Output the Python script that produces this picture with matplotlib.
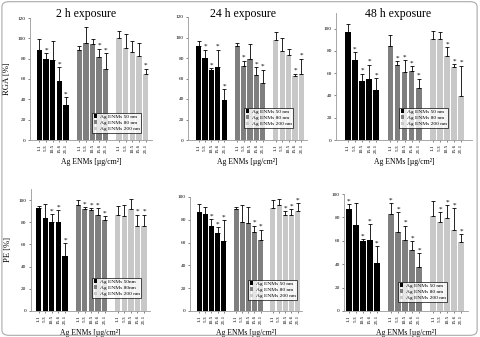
import matplotlib
matplotlib.use("Agg")
import matplotlib.pyplot as plt
import numpy as np
from matplotlib.patches import FancyBboxPatch

plt.rcParams['font.family'] = ['Liberation Serif', 'DejaVu Serif']

concentrations = ["1.1", "5.3", "10.5", "15.6", "21.1"]
series_labels = ["Ag ENMs 50 nm", "Ag ENMs 80 nm", "Ag ENMs 200 nm"]
series_labels_pe2 = ["Ag ENMs 50nm", "Ag ENMs 80nm", "Ag ENMs 200 nm"]
colors = ["#000000", "#7f7f7f", "#c8c8c8"]

# RGA 2 h
rga2_mean = [[88.9, 79.4, 79.0, 57.8, 34.0],
             [88.6, 95.4, 94.8, 81.4, 70.3],
             [100.6, 90.8, 86.3, 82.7, 65.0]]
rga2_top = [[99.0, 85.6, 97.7, 71.6, 42.0],
            [92.5, 111.0, 99.0, 90.0, 85.3],
            [107.0, 104.0, 97.4, 95.0, 70.0]]
rga2_star = [[0, 1, 0, 1, 1], [0, 0, 0, 1, 1], [0, 0, 0, 0, 1]]

# RGA 24 h
rga24_mean = [[91.4, 80.3, 68.6, 71.2, 39.3],
              [92.0, 72.5, 79.0, 63.0, 56.0],
              [97.9, 86.5, 83.2, 62.1, 64.7]]
rga24_top = [[96.6, 88.0, 70.0, 88.0, 49.8],
             [94.6, 77.4, 93.3, 70.9, 68.6],
             [105.4, 99.5, 88.8, 64.7, 79.3]]
rga24_star = [[0, 1, 1, 1, 1], [0, 1, 0, 1, 1], [0, 0, 0, 1, 1]]

# RGA 48 h
rga48_mean = [[97.0, 71.5, 53.2, 55.0, 45.0],
              [84.7, 67.3, 61.3, 61.6, 47.0],
              [90.7, 90.7, 75.7, 65.5, 39.6]]
rga48_top = [[104.5, 78.7, 59.5, 67.6, 55.6],
             [94.6, 70.9, 71.5, 66.0, 55.0],
             [98.0, 96.7, 83.5, 68.2, 66.7]]
rga48_star = [[0, 1, 1, 1, 1], [0, 1, 1, 1, 1], [0, 0, 1, 1, 1]]

# PE 2 h
pe2_mean = [[92.8, 84.3, 80.0, 80.0, 49.7],
            [95.8, 92.2, 91.3, 87.0, 81.6],
            [87.0, 85.8, 91.9, 76.2, 76.2]]
pe2_top = [[94.3, 96.4, 87.3, 90.7, 61.0],
           [100.0, 93.4, 92.5, 92.8, 85.5],
           [94.9, 95.8, 101.0, 86.7, 86.7]]
pe2_star = [[0, 0, 1, 1, 1], [0, 1, 1, 1, 1], [0, 0, 0, 1, 1]]

# PE 24 h
pe24_mean = [[87.1, 85.3, 74.8, 68.6, 61.0],
             [89.7, 77.7, 76.8, 69.5, 62.5],
             [90.0, 93.3, 84.2, 84.5, 87.4]]
pe24_top = [[93.5, 91.0, 80.6, 73.6, 79.8],
            [91.2, 93.3, 91.5, 75.0, 71.3],
            [97.0, 98.2, 87.4, 89.4, 94.7]]
pe24_star = [[0, 0, 1, 1, 1], [0, 0, 0, 1, 1], [0, 0, 1, 1, 1]]

# PE 48 h
pe48_mean = [[86.9, 73.2, 59.8, 60.4, 41.0],
             [83.0, 67.5, 60.7, 52.0, 37.6],
             [81.5, 75.8, 79.8, 69.2, 59.0]]
pe48_top = [[91.5, 92.0, 61.5, 74.0, 55.6],
            [92.3, 84.3, 73.0, 59.8, 49.3],
            [93.7, 84.3, 90.3, 87.7, 65.8]]
pe48_star = [[1, 0, 1, 1, 1], [1, 1, 1, 1, 1], [0, 1, 1, 1, 1]]

W, H = 480, 337
fig = plt.figure(figsize=(W / 100, H / 100), dpi=100)

def add_ax(L, R, T, B):
    return fig.add_axes([L / W, 1 - B / H, (R - L) / W, (B - T) / H])

def xlim_for(L, R, a, b):
    k = (b - a) / 16.8
    return (-0.4 - (a - L) / k, 16.4 + (R - b) / k)

panels = [
    dict(px=(30, 152, 18, 140), bars=(36.7, 148.3), ylim=120, yt=range(0, 121, 20),
         mean=rga2_mean, top=rga2_top, star=rga2_star, title=("2 h exposure", 86),
         ylabel="RGA [%]", labels=series_labels, leg=(92, 113, 144, 133)),
    dict(px=(188, 307, 17, 140), bars=(196, 304), ylim=120, yt=range(0, 121, 20),
         mean=rga24_mean, top=rga24_top, star=rga24_star, title=("24 h exposure", 243),
         ylabel=None, labels=series_labels, leg=(244, 107, 297, 128)),
    dict(px=(336, 472, 13, 140), bars=(345, 464), ylim=114, yt=range(0, 101, 20),
         mean=rga48_mean, top=rga48_top, star=rga48_star, title=("48 h exposure", 398),
         ylabel=None, labels=series_labels, leg=(399, 107, 460, 128)),
    dict(px=(30.5, 150, 189, 311), bars=(36, 146.7), ylim=110, yt=range(0, 101, 20),
         mean=pe2_mean, top=pe2_top, star=pe2_star, title=None,
         ylabel="PE [%]", labels=series_labels_pe2, leg=(92, 278, 144, 298)),
    dict(px=(190, 302, 197, 311), bars=(196.7, 300), ylim=100, yt=range(0, 101, 20),
         mean=pe24_mean, top=pe24_top, star=pe24_star, title=None,
         ylabel=None, labels=series_labels, leg=(248, 279, 298, 300)),
    dict(px=(344, 468, 194, 311), bars=(346, 464), ylim=100, yt=range(0, 101, 20),
         mean=pe48_mean, top=pe48_top, star=pe48_star, title=None,
         ylabel=None, labels=series_labels, leg=(398, 282, 460, 302)),
]

for p in panels:
    L, R, T, B = p["px"]
    ax = add_ax(L, R, T, B)
    handles = []
    ticks_pos, ticks_lab = [], []
    for g in range(3):
        xs = np.arange(5) + g * 6
        m = np.array(p["mean"][g])
        t = np.array(p["top"][g])
        err = t - m
        h = ax.bar(xs, m, width=0.8, color=colors[g], edgecolor="none",
                   label=p["labels"][g], zorder=2)
        handles.append(h)
        ax.errorbar(xs, m, yerr=[np.zeros(5), err], fmt="none", ecolor="black",
                    elinewidth=0.6, capsize=1.3, capthick=0.6, zorder=3)
        for i in range(5):
            if p["star"][g][i]:
                ax.annotate("*", (xs[i], t[i]), xytext=(0, 0.5), textcoords="offset points",
                            ha="center", va="bottom", fontsize=5.2)
        ticks_pos += list(xs)
        ticks_lab += concentrations
    ax.set_xlim(*xlim_for(L, R, *p["bars"]))
    ax.set_ylim(0, p["ylim"])
    ax.set_yticks(list(p["yt"]))
    ax.set_xticks(ticks_pos)
    ax.set_xticklabels(ticks_lab, rotation=90, fontsize=3.8)
    ax.tick_params(axis="y", labelsize=3.8, length=1.5, width=0.5, pad=1.5, colors="#555555",
                   labelcolor="black")
    ax.tick_params(axis="x", length=1.5, width=0.5, pad=1.5, colors="#555555",
                   labelcolor="black")
    for s in ["top", "right"]:
        ax.spines[s].set_visible(False)
    for s in ["left", "bottom"]:
        ax.spines[s].set_color("#999999")
        ax.spines[s].set_linewidth(0.6)
    ax.set_xlabel("Ag ENMs [µg/cm²]", fontsize=5.5, labelpad=3)
    if p["title"]:
        txt, cx = p["title"]
        fig.text(cx / W, 1 - 14 / H, txt, ha="center", va="center", fontsize=8.5)
    if p["ylabel"]:
        ax.set_ylabel(p["ylabel"], fontsize=6.2, labelpad=5)
    lx0, ly0, lx1, ly1 = p["leg"]
    lg = ax.legend(handles=handles, loc="lower left",
                   bbox_to_anchor=((lx0 - L) / (R - L), (B - ly1) / (B - T)),
                   fontsize=3.9, frameon=True, fancybox=False, borderpad=0.3,
                   handlelength=0.7, handleheight=0.7, handletextpad=0.4,
                   labelspacing=0.25, borderaxespad=0)
    lg.get_frame().set_edgecolor("black")
    lg.get_frame().set_linewidth(0.6)
    lg.set_zorder(5)

border = FancyBboxPatch((0.004, 0.005), 0.99, 0.99, boxstyle="round,pad=0,rounding_size=0.015",
                        transform=fig.transFigure, fill=False, edgecolor="#aaaaaa",
                        linewidth=0.8)
fig.patches.append(border)

fig.savefig("out.png", dpi=100)
